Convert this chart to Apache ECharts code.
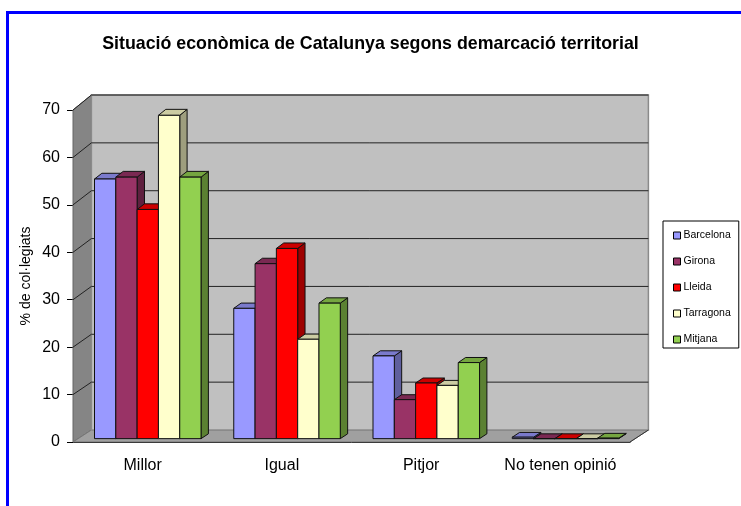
<!DOCTYPE html>
<html>
<head>
<meta charset="utf-8">
<script src="https://cdn.jsdelivr.net/npm/echarts@6/dist/echarts.min.js"></script>
<style>
html, body { margin: 0; padding: 0; background: #fff; }
#chart { width: 741px; height: 506px; }
</style>
</head>
<body>
<div id="chart"></div>
<script>
// dades llegides del gràfic
const categories = ['Millor', 'Igual', 'Pitjor', 'No tenen opinió'];
const regions = ['Barcelona', 'Girona', 'Lleida', 'Tarragona', 'Mitjana'];
const barcelona = [54.6, 27.4, 17.4, 0.3];
const girona = [55.0, 36.8, 8.2, 0];
const lleida = [48.2, 40.0, 11.7, 0];
const tarragona = [68.0, 20.9, 11.2, 0];
const mitjana = [55.0, 28.5, 16.0, 0.1];
const yTicks = [0, 10, 20, 30, 40, 50, 60, 70];

const values = [barcelona, girona, lleida, tarragona, mitjana];
const colors = ['#9999ff', '#993366', '#ff0000', '#ffffcc', '#92d050'];
const FONT = '"Liberation Sans", Arial, sans-serif';

// profunditat de la "caixa" 3D
const DX = 18.4;
function dyAt(y, yb) {
    return -(12 + (yb - y) * 0.009);
}
function back(x, y, d, yb) {
    return [x + d * DX, y + d * dyAt(y, yb)];
}
function shade(hex, k) {
    const n = parseInt(hex.slice(1), 16);
    const r = Math.round(((n >> 16) & 255) * k);
    const g = Math.round(((n >> 8) & 255) * k);
    const b = Math.round((n & 255) * k);
    return 'rgb(' + r + ',' + g + ',' + b + ')';
}

function renderWalls(params, api) {
    const cs = params.coordSys;
    const x0 = cs.x, x1 = cs.x + cs.width;
    const yb = api.coord([0, yTicks[0]])[1];
    const yt = api.coord([0, yTicks[yTicks.length - 1]])[1];
    const children = [];
    children.push({
        type: 'polygon',
        shape: { points: [[x0, yt], [x0, yb], back(x0, yb, 1, yb), back(x0, yt, 1, yb)] },
        style: { fill: '#858585', stroke: '#666', lineWidth: 1 }
    });
    children.push({
        type: 'polygon',
        shape: { points: [[x0, yb], [x1, yb], back(x1, yb, 1, yb), back(x0, yb, 1, yb)] },
        style: { fill: '#a0a0a0', stroke: '#777', lineWidth: 1 }
    });
    const bl = back(x0, yt, 1, yb), br = back(x1, yb, 1, yb);
    children.push({
        type: 'rect',
        shape: { x: bl[0], y: bl[1], width: br[0] - bl[0], height: br[1] - bl[1] },
        style: { fill: '#c0c0c0', stroke: '#8a8a8a', lineWidth: 1.5 }
    });
    yTicks.forEach(function (v) {
        if (v === 0) return;
        const y = api.coord([0, v])[1];
        const a = back(x0, y, 1, yb), b = back(x1, y, 1, yb);
        children.push({
            type: 'polyline',
            shape: { points: [[x0, y], a, b] },
            style: { stroke: '#222', lineWidth: 1, fill: null }
        });
    });
    children.push({
        type: 'line',
        shape: { x1: x1, y1: yb, x2: back(x1, yb, 1, yb)[0], y2: back(x1, yb, 1, yb)[1] },
        style: { stroke: '#333', lineWidth: 1 }
    });
    return { type: 'group', children: children };
}

function barRenderer(s) {
    return function (params, api) {
        const i = api.value(0), v = api.value(1);
        const band = api.size([1, 0])[0];
        const w = band * 0.153;
        const c = api.coord([i, 0]);
        const yb = c[1], yt = api.coord([i, v])[1];
        const left = c[0] - 2.5 * w + s * w, right = left + w;
        const f0 = 0.28, f1 = 0.68;
        const P = (x, y, d) => back(x, y, d, yb);
        const col = colors[s];
        const line = { stroke: '#111', lineWidth: 1 };
        return {
            type: 'group',
            children: [
                {
                    type: 'polygon',
                    shape: { points: [P(right, yt, f0), P(right, yt, f1), P(right, yb, f1), P(right, yb, f0)] },
                    style: Object.assign({ fill: shade(col, 0.62) }, line)
                },
                {
                    type: 'polygon',
                    shape: { points: [P(left, yt, f0), P(right, yt, f0), P(right, yt, f1), P(left, yt, f1)] },
                    style: Object.assign({ fill: shade(col, 0.8) }, line)
                },
                {
                    type: 'polygon',
                    shape: { points: [P(left, yt, f0), P(right, yt, f0), P(right, yb, f0), P(left, yb, f0)] },
                    style: Object.assign({ fill: col }, line)
                }
            ]
        };
    };
}

const series = [{
    type: 'custom',
    silent: true,
    renderItem: renderWalls,
    data: [[0, 0]],
    z: 1
}];
regions.forEach(function (name, s) {
    series.push({
        name: name,
        type: 'custom',
        renderItem: barRenderer(s),
        itemStyle: { color: colors[s] },
        data: values[s].map((v, i) => [i, v]),
        z: 2
    });
});

const chart = echarts.init(document.getElementById('chart'));
chart.setOption({
    animation: false,
    backgroundColor: '#fff',
    title: {
        text: 'Situació econòmica de Catalunya segons demarcació territorial',
        left: 'center',
        top: 30,
        textStyle: { fontFamily: FONT, fontSize: 17.8, fontWeight: 'bold', color: '#000' }
    },
    legend: {
        orient: 'vertical',
        left: 663,
        top: 221,
        padding: [9, 8, 3, 10],
        borderColor: '#000',
        borderWidth: 1,
        backgroundColor: '#fff',
        icon: 'rect',
        itemWidth: 7,
        itemHeight: 7,
        itemGap: 15,
        itemStyle: { borderColor: '#000', borderWidth: 1 },
        textStyle: { fontFamily: FONT, fontSize: 10.5, color: '#000', padding: [0, 0, 0, -2] },
        data: regions
    },
    grid: { left: 73, right: 111, top: 110, bottom: 64 },
    xAxis: {
        type: 'category',
        data: categories,
        axisLine: { lineStyle: { color: '#000', width: 1 } },
        axisTick: { length: 5, lineStyle: { color: '#000' } },
        axisLabel: { interval: 0, fontFamily: FONT, fontSize: 16, color: '#000', margin: 16 }
    },
    yAxis: {
        type: 'value',
        min: 0,
        max: 70,
        interval: 10,
        name: '% de col·legiats',
        nameLocation: 'middle',
        nameGap: 40,
        nameMoveOverlap: false,
        nameTextStyle: { fontFamily: FONT, fontSize: 14, color: '#000' },
        axisLine: { show: true, lineStyle: { color: '#000', width: 1 } },
        axisTick: { show: true, length: 6, lineStyle: { color: '#000' } },
        axisLabel: { fontFamily: FONT, fontSize: 16, color: '#000', margin: 13 },
        splitLine: { show: false }
    },
    graphic: [{
        type: 'rect',
        shape: { x: 7.5, y: 12.5, width: 780, height: 540 },
        style: { fill: null, stroke: '#0000ff', lineWidth: 3 },
        z: 100
    }],
    series: series
});
</script>
</body>
</html>
